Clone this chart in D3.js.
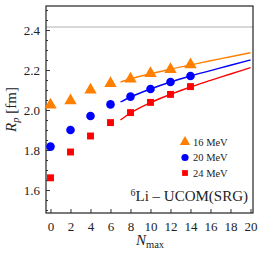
<!DOCTYPE html>
<html lang="en">
<head>
  <meta charset="UTF-8">
  <title>6Li proton radius vs Nmax</title>
  <style>
    html,
    body {
      margin: 0;
      padding: 0;
      background: #fff;
    }
    svg text {
      font-family: "Liberation Serif", "DejaVu Serif", serif;
      fill: #222;
    }
  </style>
</head>
<body>
<div id="chart"></div>

<script src="https://d3js.org/d3.v7.min.js"></script>
<script>
  // values
  const nmax = [0, 2, 4, 6, 8, 10, 12, 14];
  const r16 = [2.025, 2.047, 2.100, 2.133, 2.155, 2.183, 2.203, 2.227];
  const r20 = [1.817, 1.900, 1.970, 2.028, 2.067, 2.105, 2.140, 2.170];
  const r24 = [1.661, 1.790, 1.870, 1.937, 1.987, 2.038, 2.078, 2.117];

  // extrapolation curves
  const fitN = [7, 8, 10, 12, 14, 16, 18, 20];
  const fit16 = [2.140, 2.155, 2.181, 2.204, 2.225, 2.246, 2.266, 2.286];
  const fit20 = [2.040, 2.065, 2.105, 2.140, 2.170, 2.197, 2.224, 2.250];
  const fit24 = [1.950, 1.985, 2.037, 2.078, 2.115, 2.148, 2.180, 2.212];

  const refRadius = 2.415;

  const xTicks = [0, 2, 4, 6, 8, 10, 12, 14, 16, 18, 20];
  const yTicks = [1.6, 1.8, 2.0, 2.2, 2.4];

  const series = [
    { label: '16 MeV', color: '#ff8000', symbol: d3.symbolTriangle, size: 66, values: r16, fit: fit16 },
    { label: '20 MeV', color: '#0000ff', symbol: d3.symbolCircle, size: 58, values: r20, fit: fit20 },
    { label: '24 MeV', color: '#ff0000', symbol: d3.symbolSquare, size: 48, values: r24, fit: fit24 },
  ];

  const width = 258;
  const height = 258;
  const margin = { top: 6, right: 5, bottom: 45, left: 46 };

  const x = d3.scaleLinear()
    .domain([-0.45, 20.25])
    .range([margin.left, width - margin.right]);

  const y = d3.scaleLinear()
    .domain([1.485, 2.52])
    .range([height - margin.bottom, margin.top]);

  const svg = d3.select('#chart').append('svg')
    .attr('width', width)
    .attr('height', height);

  // reference line
  svg.append('line')
    .attr('x1', x.range()[0]).attr('x2', x.range()[1])
    .attr('y1', y(refRadius)).attr('y2', y(refRadius))
    .attr('stroke', '#b0b0b0')
    .attr('stroke-width', 1);

  // axes with inward ticks
  svg.append('g')
    .attr('transform', `translate(0,${y.range()[0]})`)
    .call(d3.axisBottom(x).tickValues(xTicks).tickSize(-4).tickPadding(9).tickFormat(d3.format('d')));

  const yMinor = d3.range(1.5, 2.52, 0.05).filter(v => !yTicks.some(t => Math.abs(t - v) < 1e-6));
  svg.append('g')
    .attr('transform', `translate(${x.range()[0]},0)`)
    .call(d3.axisLeft(y).tickValues(yMinor).tickSize(-2).tickFormat(''));

  svg.append('g')
    .attr('transform', `translate(${x.range()[0]},0)`)
    .call(d3.axisLeft(y).tickValues(yTicks).tickSize(-4).tickPadding(6).tickFormat(d3.format('.1f')));

  svg.selectAll('.domain').remove();
  svg.selectAll('.tick line').attr('stroke', '#333');
  svg.selectAll('.tick text').style('font-size', '13px').attr('fill', '#222');

  // frame
  svg.append('rect')
    .attr('x', x.range()[0]).attr('y', y.range()[1])
    .attr('width', x.range()[1] - x.range()[0])
    .attr('height', y.range()[0] - y.range()[1])
    .attr('fill', 'none')
    .attr('stroke', '#222')
    .attr('stroke-width', 1.2);

  const line = d3.line()
    .x(d => x(d[0]))
    .y(d => y(d[1]))
    .curve(d3.curveMonotoneX);

  series.forEach(s => {
    svg.append('path')
      .datum(fitN.map((n, i) => [n, s.fit[i]]))
      .attr('fill', 'none')
      .attr('stroke', s.color)
      .attr('stroke-width', 1.4)
      .attr('d', line);

    svg.append('g')
      .selectAll('path')
      .data(nmax.map((n, i) => [n, s.values[i]]))
      .join('path')
      .attr('transform', d => `translate(${x(d[0])},${y(d[1])})`)
      .attr('d', d3.symbol().type(s.symbol).size(s.size))
      .attr('fill', s.color);
  });

  // legend
  const legend = svg.append('g');
  series.forEach((s, i) => {
    const ly = 142 + i * 15.5;
    legend.append('path')
      .attr('transform', `translate(185,${ly})`)
      .attr('d', d3.symbol().type(s.symbol).size(s.size * 0.7))
      .attr('fill', s.color);
    legend.append('text')
      .attr('x', 193)
      .attr('y', ly + 3.8)
      .style('font-size', '10.5px')
      .text(s.label);
  });

  // nucleus / interaction label
  const tag = svg.append('text')
    .attr('x', 248)
    .attr('y', 201)
    .attr('text-anchor', 'end')
    .style('font-size', '15px');
  tag.append('tspan').attr('dy', -5).style('font-size', '10px').text('6');
  tag.append('tspan').attr('dy', 5).text('Li \u2013 UCOM(SRG)');

  // axis titles
  const xt = svg.append('text')
    .attr('x', 150)
    .attr('y', 245)
    .attr('text-anchor', 'middle')
    .style('font-size', '15px');
  xt.append('tspan').style('font-style', 'italic').text('N');
  xt.append('tspan').attr('dy', 3).style('font-size', '10.5px').text('max');

  const yt = svg.append('text')
    .attr('transform', `translate(16,${(y.range()[0] + y.range()[1]) / 2}) rotate(-90)`)
    .attr('text-anchor', 'middle')
    .style('font-size', '15px');
  yt.append('tspan').style('font-style', 'italic').text('R');
  yt.append('tspan').attr('dy', 3).style('font-size', '10.5px').style('font-style', 'italic').text('p');
  yt.append('tspan').attr('dy', -3).text(' [fm]');
</script>
</body>
</html>
